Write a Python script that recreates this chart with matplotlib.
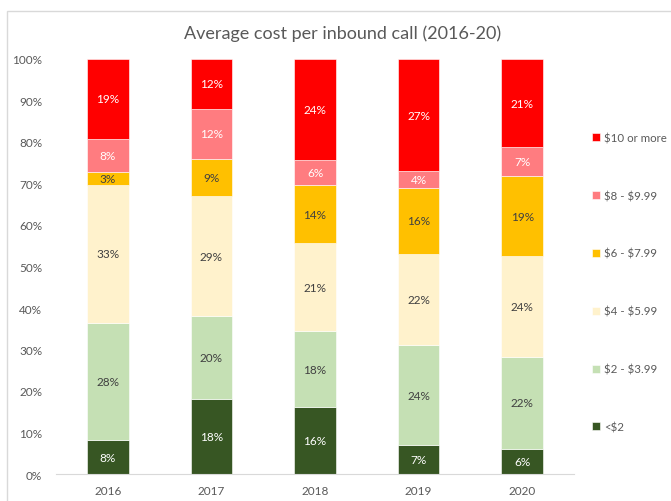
import numpy as np
import matplotlib.pyplot as plt
from matplotlib.patches import Rectangle

plt.rcParams['font.family'] = ['Lato', 'DejaVu Sans']

years = ['2016', '2017', '2018', '2019', '2020']
bands = ['<$2', '$2 - $3.99', '$4 - $5.99', '$6 - $7.99', '$8 - $9.99', '$10 or more']
shares = {
    '<$2':         [8, 18, 16, 7, 6],
    '$2 - $3.99':  [28, 20, 18, 24, 22],
    '$4 - $5.99':  [33, 29, 21, 22, 24],
    '$6 - $7.99':  [3, 9, 14, 16, 19],
    '$8 - $9.99':  [8, 12, 6, 4, 7],
    '$10 or more': [19, 12, 24, 27, 21],
}
colors = ['#375623', '#C5E0B4', '#FFF2CC', '#FFC000', '#FF7C80', '#FF0000']
label_colors = ['white', '#404040', '#404040', '#404040', 'white', 'white']

gray = '#595959'

fig = plt.figure(figsize=(6.71, 5.02), dpi=100)
ax = fig.add_axes([56 / 671, 1 - 475 / 502, (574 - 56) / 671, (475 - 60) / 502])

# chart border (cut off at right and bottom like the screenshot)
fig.patches.append(Rectangle((7 / 671, -0.1), 1.2, 1 - 12 / 502 + 0.1,
                             transform=fig.transFigure, fill=False,
                             edgecolor='#D9D9D9', linewidth=1))

x = np.arange(len(years))
totals = np.sum([shares[b] for b in bands], axis=0)
bottom = np.zeros(len(years))
bars = []
for band, col, lc in zip(bands, colors, label_colors):
    vals = np.array(shares[band], dtype=float)
    frac = vals / totals
    b = ax.bar(x, frac, 0.4, bottom=bottom, color=col, edgecolor='white',
               linewidth=0.4)
    bars.append(b)
    for xi, v, f, bt in zip(x, vals, frac, bottom):
        ax.text(xi, bt + f / 2, f'{int(v)}%', ha='center', va='center',
                fontsize=8.5, color=lc)
    bottom += frac

ax.set_xlim(-0.5, len(years) - 0.5)
ax.set_ylim(0, 1)
ax.set_xticks(x)
ax.set_xticklabels(years)
ax.set_yticks(np.arange(0, 1.01, 0.1))
ax.set_yticklabels([f'{int(round(t * 100))}%' for t in np.arange(0, 1.01, 0.1)])
ax.tick_params(axis='both', length=0, labelsize=8.5, colors=gray)
ax.tick_params(axis='y', pad=10)
ax.tick_params(axis='x', pad=8)
for s in ['top', 'right', 'left']:
    ax.spines[s].set_visible(False)
ax.spines['bottom'].set_color('#D9D9D9')

fig.text(343 / 671, 1 - 34 / 502, 'Average cost per inbound call (2016-20)',
         ha='center', va='center', fontsize=13, color=gray)

leg = fig.legend(bars[::-1], [b.replace('$', r'\$') for b in bands[::-1]],
                 loc='upper left', bbox_to_anchor=(582 / 671, 1 - 123 / 502),
                 frameon=False, fontsize=8.3, labelcolor=gray,
                 handlelength=0.7, handleheight=0.7, handletextpad=0.35,
                 labelspacing=4.06)

fig.savefig('out.png', dpi=100)
